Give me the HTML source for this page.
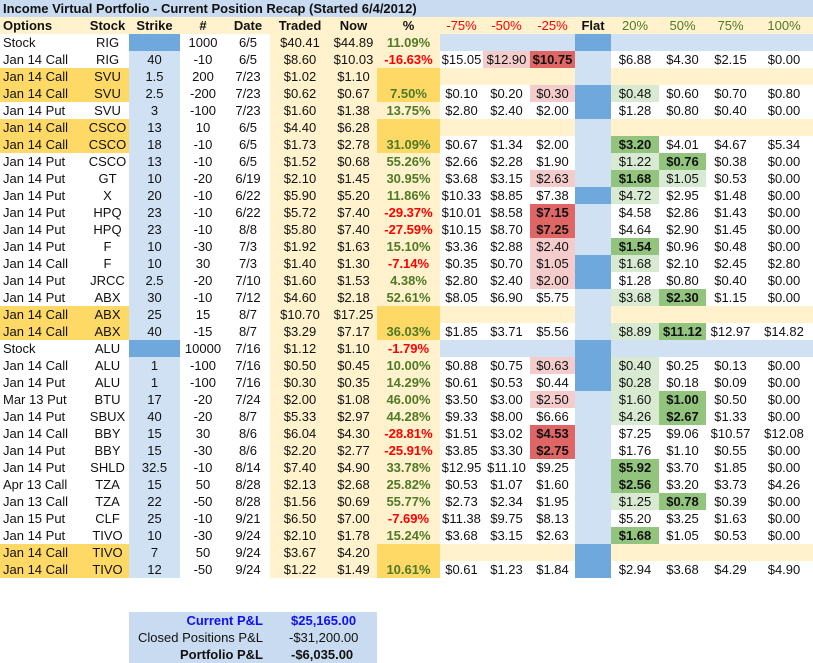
<!DOCTYPE html>
<html><head><meta charset="utf-8">
<style>
body{margin:0;width:813px;height:663px;background:#fff;position:relative;overflow:hidden;font-family:"Liberation Sans",Arial,sans-serif;font-size:13px;color:#111;}
.c{position:absolute;height:17px;line-height:17px;text-align:center;white-space:nowrap;box-sizing:border-box;}
.l{text-align:left;padding-left:3px;}
.b{font-weight:bold;}
#title{position:absolute;left:0;top:0;width:813px;height:17px;line-height:17px;background:#C9DBF0;font-weight:bold;padding-left:3px;box-sizing:border-box;}
#summary{position:absolute;left:129px;top:612px;width:248px;height:51px;background:#C9DBF0;}
#summary div{position:absolute;height:17px;line-height:17px;white-space:nowrap;}
</style></head>
<body>
<div id="title">Income Virtual Portfolio - Current Position Recap (Started 6/4/2012)</div>
<div id="grid"></div>
<div id="summary">
  <div style="right:114px;top:0;color:#1010F0;font-weight:bold;">Current P&amp;L</div>
  <div style="left:162px;top:0;color:#1010F0;font-weight:bold;">$25,165.00</div>
  <div style="right:114px;top:17px;">Closed Positions P&amp;L</div>
  <div style="left:160px;top:17px;">-$31,200.00</div>
  <div style="right:114px;top:34px;font-weight:bold;">Portfolio P&amp;L</div>
  <div style="left:162px;top:34px;font-weight:bold;">-$6,035.00</div>
</div>
<script>
const edges=[0,86,129,180,226,270,330,377,440,483,530,575,611,659,706,755,813];
const headers=["Options","Stock","Strike","#","Date","Traded","Now","%","-75%","-50%","-25%","Flat","20%","50%","75%","100%"];
// kind: s=stock row, g=gold first, G=gold second, n=normal ; flat dark flag
const rows=[
["Stock","RIG","","1000","6/5","$40.41","$44.89","11.09%",null,"",1,"s"],
["Jan 14 Call","RIG","40","-10","6/5","$8.60","$10.03","-16.63%",[15.05,12.90,10.75,6.88,4.30,2.15,0.00],".rR....",0,"n"],
["Jan 14 Call","SVU","1.5","200","7/23","$1.02","$1.10","",null,"",0,"g"],
["Jan 14 Call","SVU","2.5","-200","7/23","$0.62","$0.67","7.50%",[0.10,0.20,0.30,0.48,0.60,0.70,0.80],"..rg...",1,"G"],
["Jan 14 Put","SVU","3","-100","7/23","$1.60","$1.38","13.75%",[2.80,2.40,2.00,1.28,0.80,0.40,0.00],".......",1,"n"],
["Jan 14 Call","CSCO","13","10","6/5","$4.40","$6.28","",null,"",0,"g"],
["Jan 14 Call","CSCO","18","-10","6/5","$1.73","$2.78","31.09%",[0.67,1.34,2.00,3.20,4.01,4.67,5.34],"...G...",0,"G"],
["Jan 14 Put","CSCO","13","-10","6/5","$1.52","$0.68","55.26%",[2.66,2.28,1.90,1.22,0.76,0.38,0.00],"...gG..",0,"n"],
["Jan 14 Put","GT","10","-20","6/19","$2.10","$1.45","30.95%",[3.68,3.15,2.63,1.68,1.05,0.53,0.00],"..rGg..",0,"n"],
["Jan 14 Put","X","20","-10","6/22","$5.90","$5.20","11.86%",[10.33,8.85,7.38,4.72,2.95,1.48,0.00],"...g...",1,"n"],
["Jan 14 Put","HPQ","23","-10","6/22","$5.72","$7.40","-29.37%",[10.01,8.58,7.15,4.58,2.86,1.43,0.00],"..R....",0,"n"],
["Jan 14 Put","HPQ","23","-10","8/8","$5.80","$7.40","-27.59%",[10.15,8.70,7.25,4.64,2.90,1.45,0.00],"..R....",0,"n"],
["Jan 14 Put","F","10","-30","7/3","$1.92","$1.63","15.10%",[3.36,2.88,2.40,1.54,0.96,0.48,0.00],"..rG...",0,"n"],
["Jan 14 Call","F","10","30","7/3","$1.40","$1.30","-7.14%",[0.35,0.70,1.05,1.68,2.10,2.45,2.80],"..rg...",1,"n"],
["Jan 14 Put","JRCC","2.5","-20","7/10","$1.60","$1.53","4.38%",[2.80,2.40,2.00,1.28,0.80,0.40,0.00],"..r....",1,"n"],
["Jan 14 Put","ABX","30","-10","7/12","$4.60","$2.18","52.61%",[8.05,6.90,5.75,3.68,2.30,1.15,0.00],"...gG..",0,"n"],
["Jan 14 Call","ABX","25","15","8/7","$10.70","$17.25","",null,"",0,"g"],
["Jan 14 Call","ABX","40","-15","8/7","$3.29","$7.17","36.03%",[1.85,3.71,5.56,8.89,11.12,12.97,14.82],"...gG..",0,"G"],
["Stock","ALU","","10000","7/16","$1.12","$1.10","-1.79%",null,"",1,"s"],
["Jan 14 Call","ALU","1","-100","7/16","$0.50","$0.45","10.00%",[0.88,0.75,0.63,0.40,0.25,0.13,0.00],"..rg...",1,"n"],
["Jan 14 Put","ALU","1","-100","7/16","$0.30","$0.35","14.29%",[0.61,0.53,0.44,0.28,0.18,0.09,0.00],"...g...",1,"n"],
["Mar 13 Put","BTU","17","-20","7/24","$2.00","$1.08","46.00%",[3.50,3.00,2.50,1.60,1.00,0.50,0.00],"..rgG..",0,"n"],
["Jan 14 Put","SBUX","40","-20","8/7","$5.33","$2.97","44.28%",[9.33,8.00,6.66,4.26,2.67,1.33,0.00],"...gG..",0,"n"],
["Jan 14 Call","BBY","15","30","8/6","$6.04","$4.30","-28.81%",[1.51,3.02,4.53,7.25,9.06,10.57,12.08],"..R....",0,"n"],
["Jan 14 Put","BBY","15","-30","8/6","$2.20","$2.77","-25.91%",[3.85,3.30,2.75,1.76,1.10,0.55,0.00],"..R....",0,"n"],
["Jan 14 Put","SHLD","32.5","-10","8/14","$7.40","$4.90","33.78%",[12.95,11.10,9.25,5.92,3.70,1.85,0.00],"...G...",0,"n"],
["Apr 13 Call","TZA","15","50","8/28","$2.13","$2.68","25.82%",[0.53,1.07,1.60,2.56,3.20,3.73,4.26],"...G...",0,"n"],
["Jan 13 Call","TZA","22","-50","8/28","$1.56","$0.69","55.77%",[2.73,2.34,1.95,1.25,0.78,0.39,0.00],"...gG..",0,"n"],
["Jan 15 Put","CLF","25","-10","9/21","$6.50","$7.00","-7.69%",[11.38,9.75,8.13,5.20,3.25,1.63,0.00],".......",0,"n"],
["Jan 14 Put","TIVO","10","-30","9/24","$2.10","$1.78","15.24%",[3.68,3.15,2.63,1.68,1.05,0.53,0.00],"...G...",0,"n"],
["Jan 14 Call","TIVO","7","50","9/24","$3.67","$4.20","",null,"",1,"g"],
["Jan 14 Call","TIVO","12","-50","9/24","$1.22","$1.49","10.61%",[0.61,1.23,1.84,2.94,3.68,4.29,4.90],".......",1,"G"]
];
const LB="#CFE1F3",DB="#6FA8DC",LY="#FFF2CC",GOLD="#FFD966";
const HL={r:"#F4CCCC",R:"#E06666",g:"#D9EAD3",G:"#93C47D"};
const grid=document.getElementById('grid');
function cell(ci,y,txt,bg,style,name){
  const d=document.createElement('div');
  d.className='c'+(ci===0?' l':'');
  d.style.left=edges[ci]+'px';d.style.top=y+'px';d.style.width=(edges[ci+1]-edges[ci])+'px';
  if(bg)d.style.background=bg;
  if(style)Object.assign(d.style,style);
  d.textContent=txt;
  
  
  grid.appendChild(d);return d;
}
headers.forEach((h,i)=>{
  let st={fontWeight:'bold'};
  if(i>=8&&i<=10)st={color:'#FF0000'};
  if(i>=12)st={color:'#4F7A28'};
  cell(i,17,h,i===11?LY:LY,st,'header-'+i);
});
rows.forEach((r,ri)=>{
  const y=34+ri*17,k=r[11];
  const gold=(k==='g'||k==='G');
  cell(0,y,r[0],gold?GOLD:'#fff',null,'option-type');
  cell(1,y,r[1],gold?GOLD:'#fff',null,'stock-symbol');
  cell(2,y,r[2],k==='s'?DB:LB,null,'strike');
  cell(3,y,r[3],'#fff',null,'quantity');
  cell(4,y,r[4],'#fff',null,'trade-date');
  cell(5,y,r[5],LY,null,'traded-price');
  cell(6,y,r[6],LY,null,'now-price');
  const neg=r[7].startsWith('-');
  cell(7,y,r[7],gold?GOLD:LY,{fontWeight:'bold',color:neg?'#FF0000':'#4F7A28'},'percent-change');
  const rightBg=k==='s'?LB:(k==='g'?LY:'#fff');
  const flatBg=r[10]?DB:LB;
  const vals=r[8];
  let vi=0;
  for(let ci=8;ci<16;ci++){
    if(ci===11){cell(ci,y,'',flatBg,null,'flat-cell');continue;}
    let txt='',bg=rightBg,st=null;
    if(vals){
      txt='$'+vals[vi].toFixed(2);
      const h=r[9][vi];
      if(h&&h!=='.'){bg=HL[h];if(h==='R'||h==='G')st={fontWeight:'bold'};}
    }
    cell(ci,y,txt,bg,st,'scenario-value');
    vi++;
  }
});
</script>
</body></html>
